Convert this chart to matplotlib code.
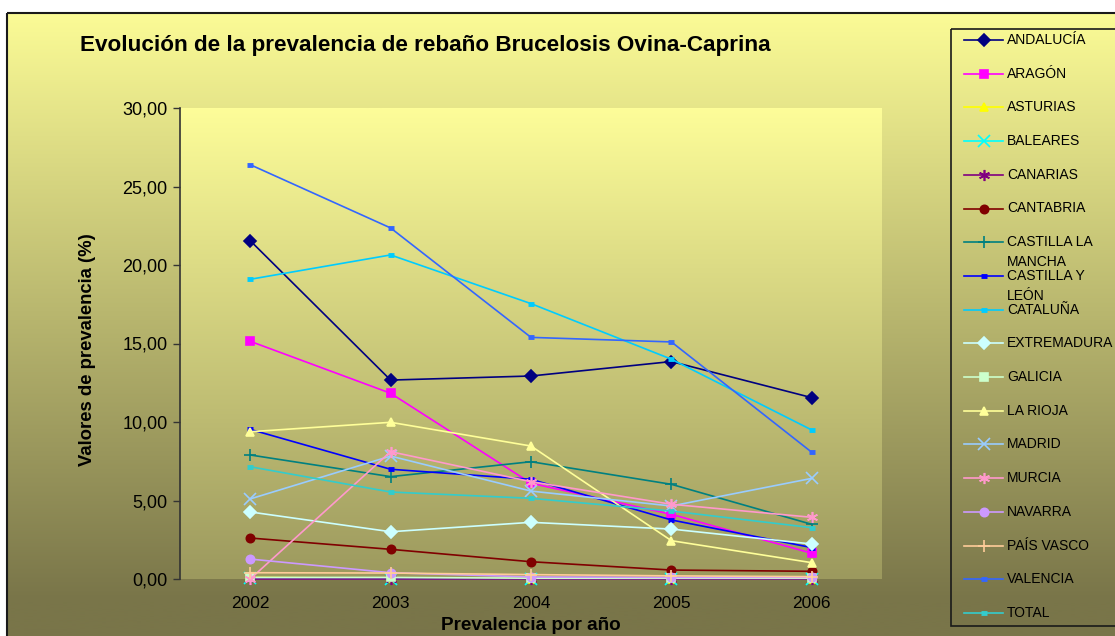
import matplotlib
matplotlib.use("Agg")
import matplotlib.pyplot as plt
import numpy as np
from matplotlib.patches import Rectangle

plt.rcParams["font.family"] = ["Liberation Sans", "DejaVu Sans"]

# data
years = ["2002", "2003", "2004", "2005", "2006"]
regions = [
    "ANDALUCÍA", "ARAGÓN", "ASTURIAS", "BALEARES", "CANARIAS", "CANTABRIA",
    "CASTILLA LA\nMANCHA", "CASTILLA Y\nLEÓN", "CATALUÑA", "EXTREMADURA",
    "GALICIA", "LA RIOJA", "MADRID", "MURCIA", "NAVARRA", "PAÍS VASCO",
    "VALENCIA", "TOTAL",
]
andalucia = [21.55, 12.67, 12.93, 13.85, 11.55]
aragon = [15.14, 11.83, 6.10, 4.12, 1.64]
asturias = [0.10, 0.05, 0.02, 0.02, 0.02]
baleares = [0.05, 0.02, 0.02, 0.02, 0.02]
canarias = [0.0, 0.0, 0.0, 0.0, 0.0]
cantabria = [2.61, 1.89, 1.10, 0.57, 0.49]
castilla_mancha = [7.90, 6.52, 7.47, 6.03, 3.48]
castilla_leon = [9.53, 6.99, 6.35, 3.76, 2.00]
cataluna = [19.09, 20.64, 17.54, 14.00, 9.49]
extremadura = [4.27, 3.01, 3.61, 3.18, 2.23]
galicia = [0.10, 0.10, 0.05, 0.05, 0.05]
la_rioja = [9.38, 9.98, 8.47, 2.44, 1.04]
madrid = [5.10, 7.83, 5.60, 4.65, 6.41]
murcia = [0.0, 8.11, 6.20, 4.76, 3.93]
navarra = [1.27, 0.40, 0.13, 0.10, 0.10]
pais_vasco = [0.40, 0.38, 0.28, 0.20, 0.15]
valencia = [26.39, 22.36, 15.39, 15.10, 8.07]
total = [7.15, 5.54, 5.14, 4.33, 3.27]

series = [andalucia, aragon, asturias, baleares, canarias, cantabria,
          castilla_mancha, castilla_leon, cataluna, extremadura, galicia,
          la_rioja, madrid, murcia, navarra, pais_vasco, valencia, total]

colors = ["#000080", "#FF00FF", "#FFFF00", "#00FFFF", "#800080", "#800000",
          "#008080", "#0000FF", "#00CCFF", "#CCFFFF", "#CCFFCC", "#FFFF99",
          "#99CCFF", "#FF99CC", "#CC99FF", "#FFCC99", "#3366FF", "#33CCCC"]
markers = ["D", "s", "^", "x", (6, 2, 0), "o", "+", "_", "_", "D", "s", "^",
           "x", (6, 2, 0), "o", "+", "_", "_"]


def marker_style(m):
    if m == "_":
        return 5, 3.5
    if m in ("x", "+") or isinstance(m, tuple):
        return 8, 1.2
    return 6, 1.2


W, H = 1115, 636
fig = plt.figure(figsize=(W / 100, H / 100), dpi=100)
fig.patch.set_facecolor("white")

# outer chart background (gradient) in pixel coords
bg = fig.add_axes([0, 0, 1, 1], zorder=-10)
bg.set_xlim(0, W)
bg.set_ylim(H, 0)
bg.axis("off")
top_c = np.array([251, 251, 150]) / 255
bot_c = np.array([121, 117, 73]) / 255
t = np.clip(np.linspace(0, 1, 300) * 1.06, 0, 1)[:, None]
grad = (top_c * (1 - t) + bot_c * t)[:, None, :]
bg.imshow(grad, extent=[7, W + 5, H, 13], aspect="auto", interpolation="bilinear")
bg.add_patch(Rectangle((7, 13), W, H, fill=False, ec="#1a1a1a", lw=1.5))

# plot area
left, right, top, bottom = 180, 882, 108, 579
ax = fig.add_axes([left / W, 1 - bottom / H, (right - left) / W, (bottom - top) / H])
ax.set_xlim(0, len(years))
ax.set_ylim(0, 30)
p_top = np.array([253, 253, 153]) / 255
p_bot = np.array([156, 153, 94]) / 255
t2 = np.linspace(0, 1, 300)[:, None]
grad2 = (p_top * (1 - t2) + p_bot * t2)[:, None, :]
ax.imshow(grad2, extent=[0, len(years), 0, 30], aspect="auto",
          interpolation="bilinear", zorder=0)

x = np.arange(len(years)) + 0.5
for vals, c, m in zip(series, colors, markers):
    ms, mew = marker_style(m)
    ax.plot(x, vals, color=c, lw=1.2, marker=m, ms=ms, mfc=c, mec=c, mew=mew,
            zorder=3, clip_on=False)

ax.set_xticks(x)
ax.set_xticklabels(years, fontsize=12.5)
ax.set_yticks(np.arange(0, 31, 5))
ax.set_yticklabels([f"{v:.2f}".replace(".", ",") for v in np.arange(0, 31, 5)],
                   fontsize=13)
ax.tick_params(axis="x", length=0, pad=12)
ax.tick_params(axis="y", length=5, width=1, color="#333333", pad=4)
for s in ["top", "right", "bottom"]:
    ax.spines[s].set_visible(False)
ax.spines["left"].set_color("#333333")
ax.spines["left"].set_linewidth(1.2)

fig.text(80 / W, 1 - 46 / H, "Evolución de la prevalencia de rebaño Brucelosis Ovina-Caprina",
         fontsize=16.2, fontweight="bold", ha="left", va="center")
fig.text(88 / W, 1 - 350 / H, "Valores de prevalencia (%)", fontsize=13.3,
         fontweight="bold", rotation=90, ha="center", va="center")
fig.text(531 / W, 1 - 625 / H, "Prevalencia por año", fontsize=13.6,
         fontweight="bold", ha="center", va="center")

# legend drawn on the pixel overlay
bg.add_patch(Rectangle((951, 29), 200, 597, fill=False, ec="#1a1a1a", lw=1.2))
ov = fig.add_axes([0, 0, 1, 1], zorder=5)
ov.set_xlim(0, W)
ov.set_ylim(H, 0)
ov.axis("off")
for i, (lab, c, m) in enumerate(zip(regions, colors, markers)):
    yy = 40 + i * 33.7
    ms, mew = marker_style(m)
    ov.plot([964, 983.5, 1003], [yy, yy, yy], color=c, lw=1.2, marker=m,
            markevery=[1], ms=ms, mfc=c, mec=c, mew=mew)
    lines = lab.split("\n")
    ov.text(1007, yy, lines[0], fontsize=10, ha="left", va="center")
    if len(lines) > 1:
        ov.text(1007, yy + 20, lines[1], fontsize=10, ha="left", va="center")

fig.savefig("out.png", dpi=100)
